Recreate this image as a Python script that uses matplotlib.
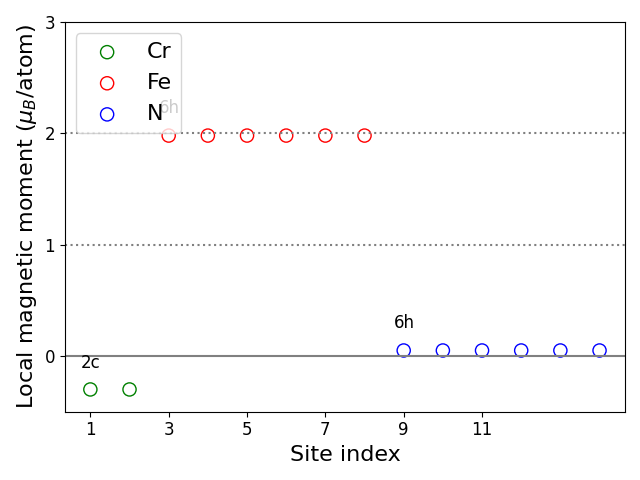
import matplotlib
matplotlib.use('Agg')
import matplotlib.pyplot as plt

cr_idx = [1, 2]
cr_mom = [-0.3, -0.3]
fe_idx = [3, 4, 5, 6, 7, 8]
fe_mom = [1.98, 1.98, 1.98, 1.98, 1.98, 1.98]
n_idx = [9, 10, 11, 12, 13, 14]
n_mom = [0.05, 0.05, 0.05, 0.05, 0.05, 0.05]

fig, ax = plt.subplots(figsize=(6.4, 4.8), dpi=100)
ax.axhline(0, color='grey', lw=1.5)
ax.axhline(1, color='grey', ls=':', lw=1.5)
ax.axhline(2, color='grey', ls=':', lw=1.5)
ax.scatter(cr_idx, cr_mom, s=90, facecolors='none', edgecolors='green', label='Cr')
ax.scatter(fe_idx, fe_mom, s=90, facecolors='none', edgecolors='red', label='Fe')
ax.scatter(n_idx, n_mom, s=90, facecolors='none', edgecolors='blue', label='N')
ax.text(0.75, -0.11, '2c', fontsize=12)
ax.text(2.75, 2.18, '6h', fontsize=12)
ax.text(8.75, 0.25, '6h', fontsize=12)
ax.set_ylim(-0.5, 3)
ax.set_xticks([1, 3, 5, 7, 9, 11])
ax.set_yticks([0, 1, 2, 3])
ax.tick_params(labelsize=12)
ax.set_xlabel('Site index', fontsize=16)
ax.set_ylabel(r'Local magnetic moment ($\mu_B$/atom)', fontsize=16)
ax.legend(fontsize=16, loc='upper left')
plt.tight_layout()
plt.savefig('out.png')
